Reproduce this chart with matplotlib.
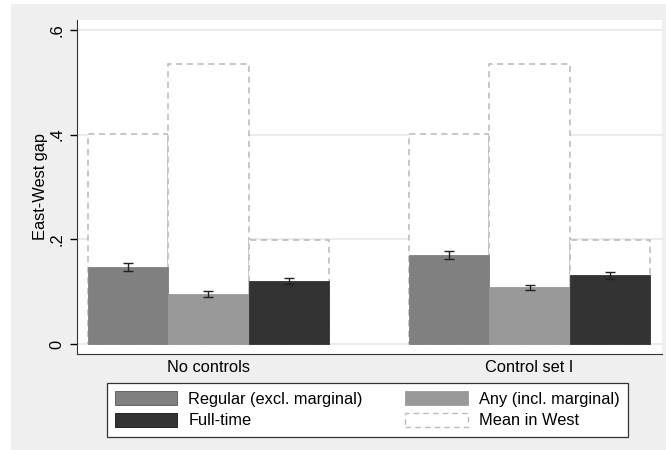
import numpy as np
import matplotlib
matplotlib.use("Agg")
import matplotlib.pyplot as plt
from matplotlib.patches import Rectangle, Patch

plt.rcParams['font.family'] = ['Liberation Sans', 'DejaVu Sans']
plt.rcParams['font.size'] = 11.8

# data
groups = ["No controls", "Control set I"]
series = ["Regular (excl. marginal)", "Any (incl. marginal)", "Full-time"]
gap_regular = [0.147, 0.170]
gap_any = [0.096, 0.108]
gap_fulltime = [0.120, 0.131]
err_regular = [0.0075, 0.0080]
err_any = [0.0055, 0.0050]
err_fulltime = [0.0060, 0.0065]
west_mean = [0.401, 0.535, 0.199]  # same in both panels
colors = ["#808080", "#999999", "#333333"]

gaps = [gap_regular, gap_any, gap_fulltime]
errs = [err_regular, err_any, err_fulltime]

fig = plt.figure(figsize=(6.66, 4.5), dpi=100, facecolor="white")
# grey Stata-like background
fig.patches.append(Rectangle((11/666, 0), 1 - 11/666, 446/450, transform=fig.transFigure,
                             facecolor="#efefef", edgecolor="none", zorder=-10))
ax = fig.add_axes([77/666, 96/450, 585/666, 334/450])
ax.set_facecolor("white")

group_pos = np.array([0, 4])
for i in range(3):
    x = group_pos + i
    # mean in West as dashed outline bar behind
    ax.bar(x, [west_mean[i]] * 2, width=1, facecolor="white", edgecolor="#b8b8b8",
           linestyle=(0, (4, 3)), linewidth=1.1, zorder=2)
for i in range(3):
    x = group_pos + i
    ax.bar(x, gaps[i], width=1, color=colors[i], edgecolor=colors[i], linewidth=0.6, zorder=3)
    ax.errorbar(x, gaps[i], yerr=errs[i], fmt="none", ecolor="#222222", elinewidth=1,
                capsize=3.5, capthick=1, zorder=4)

ax.set_xlim(-0.637, 6.65)
ax.set_ylim(-0.0191, 0.6191)
ax.set_yticks([0, 0.2, 0.4, 0.6])
ax.set_yticklabels(["0", ".2", ".4", ".6"], rotation=90, va="center")
ax.set_xticks(group_pos + 1)
ax.set_xticklabels(groups)
ax.tick_params(axis="x", length=0, pad=4)
ax.tick_params(axis="y", length=5, width=1, pad=4, direction="out")
ax.set_ylabel("East-West gap", labelpad=1)
ax.yaxis.grid(True, color="#e6e6e6", linewidth=1.1, zorder=0)
ax.set_axisbelow(True)
for s in ["top", "right"]:
    ax.spines[s].set_visible(False)
ax.spines["left"].set_color("#333333")
ax.spines["bottom"].set_color("#333333")

handles = [Patch(facecolor=colors[0], edgecolor="#555555", linewidth=0.6),
           Patch(facecolor=colors[2], edgecolor="#111111", linewidth=0.6),
           Patch(facecolor=colors[1], edgecolor=colors[1], linewidth=0.6),
           Patch(facecolor="white", edgecolor="#bbbbbb", linestyle=(0, (4, 3)), linewidth=1)]
labels = [series[0], series[2], series[1], "Mean in West"]
leg = fig.legend(handles, labels, ncol=2, loc="upper left",
                 bbox_to_anchor=(107/666, 1 - 383/450),
                 frameon=True, fancybox=False, edgecolor="#333333", framealpha=1,
                 handlelength=3.8, handleheight=0.95, handletextpad=0.67,
                 borderaxespad=0, labelspacing=0.35, borderpad=0.5, columnspacing=2.6)
leg.get_frame().set_linewidth(0.9)

fig.savefig("out.png", dpi=100, facecolor=fig.get_facecolor())
